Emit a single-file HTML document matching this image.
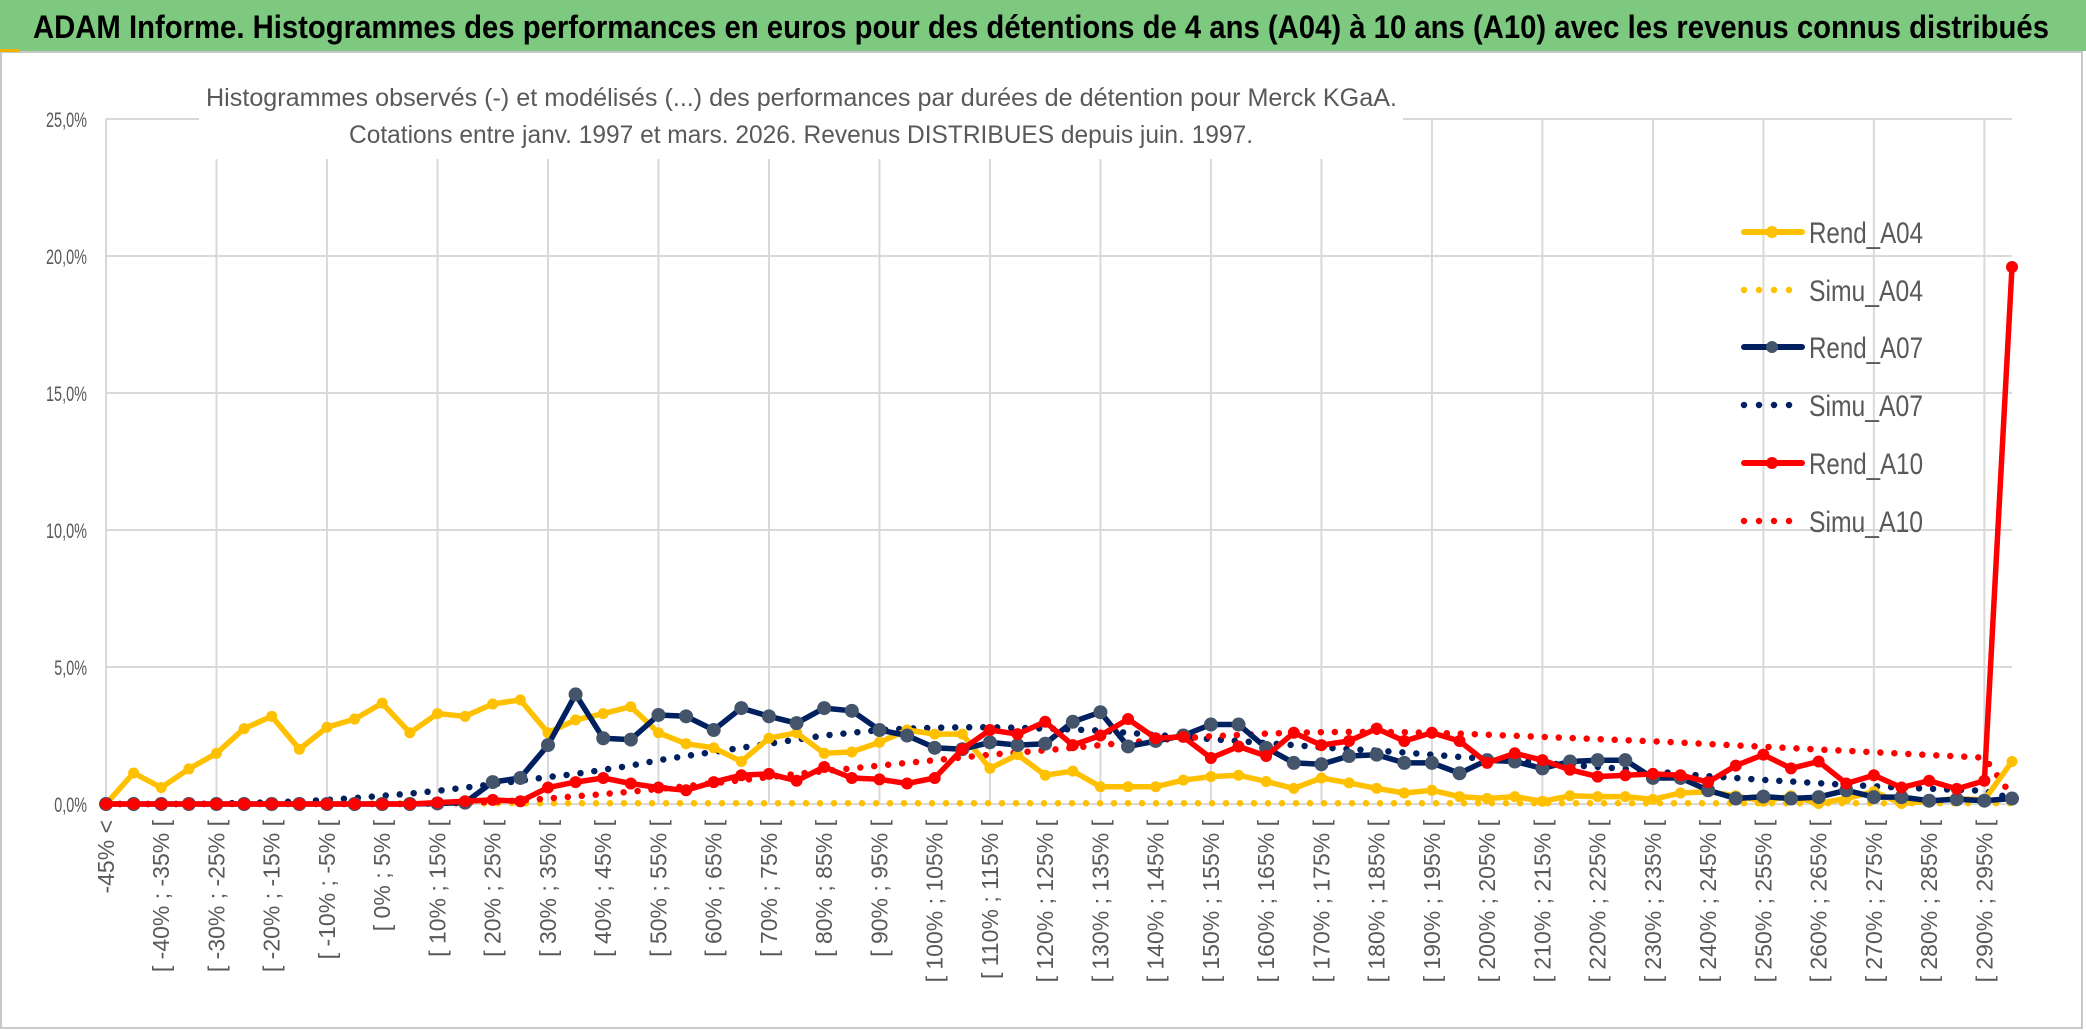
<!DOCTYPE html>
<html><head><meta charset="utf-8"><style>
html,body{margin:0;padding:0;background:#fff;}
svg{display:block;font-family:"Liberation Sans",sans-serif;}
</style></head><body>
<svg id="chart" width="2086" height="1031" viewBox="0 0 2086 1031" xmlns="http://www.w3.org/2000/svg">
<rect x="0" y="0" width="2086" height="1031" fill="#fff"/>
<rect x="1" y="52" width="2081" height="976" fill="#fff" stroke="#c8c8c8" stroke-width="2"/>
<rect x="0" y="0" width="2086" height="51" fill="#7cc97f"/>
<rect x="0" y="49" width="20" height="3" fill="#f0b400"/>
<text x="33" y="38" font-size="32" font-weight="bold" fill="#000" textLength="2016" lengthAdjust="spacingAndGlyphs">ADAM Informe. Histogrammes des performances en euros pour des détentions de 4 ans (A04) à 10 ans (A10) avec les revenus connus distribués</text>
<g id="grid"></g>
<rect x="199" y="70" width="1204" height="89" fill="#fff"/>
<text x="206" y="106" font-size="25" fill="#595959" textLength="1191" lengthAdjust="spacingAndGlyphs">Histogrammes observés (-) et modélisés (...) des performances par durées de détention pour Merck KGaA.</text>
<text x="349" y="143" font-size="25" fill="#595959" textLength="904" lengthAdjust="spacingAndGlyphs">Cotations entre janv. 1997 et mars. 2026. Revenus DISTRIBUES depuis juin. 1997.</text>
<g id="yaxis"></g>
<g id="xaxis"></g>
<g id="series"></g>
<g id="legend"></g>
</svg>
<script>
const rendA04 = [0,1.13,0.6,1.28,1.85,2.75,3.2,2.0,2.8,3.1,3.68,2.6,3.3,3.2,3.65,3.8,2.6,3.07,3.3,3.55,2.6,2.2,2.05,1.55,2.4,2.6,1.85,1.9,2.25,2.7,2.55,2.55,1.3,1.8,1.05,1.2,0.63,0.63,0.63,0.87,1.0,1.05,0.82,0.57,0.95,0.77,0.57,0.4,0.5,0.27,0.2,0.27,0.1,0.3,0.27,0.27,0.17,0.4,0.45,0.3,0.1,0.3,0.02,0.2,0.45,0.02,0.1,0.2,0.15,1.55];
const simuA04 = [0,0,0,0,0,0,0,0,0,0,0.02,0.02,0.02,0.03,0.03,0.03,0.03,0.03,0.03,0.03,0.03,0.03,0.03,0.03,0.03,0.03,0.03,0.03,0.03,0.03,0.03,0.03,0.03,0.03,0.03,0.03,0.03,0.03,0.03,0.03,0.03,0.03,0.03,0.03,0.03,0.03,0.03,0.03,0.03,0.03,0.03,0.03,0.03,0.03,0.03,0.03,0.03,0.03,0.03,0.03,0.03,0.03,0.03,0.03,0.03,0.03,0.03,0.03,0.03,0.03];
const rendA07 = [0,0,0,0,0,0,0,0,0,0,0,0,0.02,0.05,0.8,0.95,2.15,4.0,2.4,2.35,3.25,3.2,2.7,3.5,3.2,2.95,3.5,3.4,2.7,2.5,2.05,2.0,2.25,2.15,2.2,3.0,3.35,2.1,2.3,2.5,2.9,2.9,2.05,1.5,1.45,1.75,1.8,1.5,1.5,1.12,1.6,1.55,1.3,1.55,1.6,1.6,0.95,0.95,0.5,0.2,0.27,0.2,0.25,0.5,0.25,0.25,0.12,0.17,0.12,0.2];
const simuA07 = [0,0,0,0,0.02,0.04,0.06,0.1,0.15,0.22,0.3,0.38,0.48,0.6,0.72,0.85,0.98,1.1,1.25,1.4,1.6,1.75,1.9,2.05,2.2,2.35,2.5,2.6,2.7,2.75,2.78,2.8,2.8,2.78,2.75,2.72,2.68,2.6,2.52,2.45,2.37,2.3,2.22,2.15,2.07,2.0,1.95,1.88,1.8,1.72,1.65,1.58,1.5,1.42,1.35,1.28,1.2,1.1,1.02,0.95,0.88,0.82,0.76,0.7,0.65,0.6,0.56,0.52,0.48,0.2];
const rendA10 = [0,0,0,0,0,0,0,0,0,0,0,0,0.05,0.1,0.15,0.1,0.6,0.8,0.95,0.75,0.6,0.5,0.8,1.05,1.1,0.85,1.35,0.95,0.9,0.75,0.95,2.0,2.7,2.55,3.0,2.15,2.5,3.1,2.4,2.45,1.68,2.1,1.75,2.6,2.15,2.3,2.75,2.3,2.6,2.3,1.5,1.85,1.6,1.25,1.0,1.05,1.1,1.05,0.8,1.4,1.8,1.3,1.55,0.75,1.05,0.6,0.85,0.55,0.85,19.6];
const simuA10 = [0,0,0,0,0,0,0,0,0,0,0,0,0.02,0.04,0.08,0.13,0.2,0.28,0.36,0.45,0.55,0.65,0.76,0.87,0.98,1.1,1.2,1.3,1.4,1.5,1.6,1.7,1.8,1.88,1.96,2.05,2.15,2.25,2.33,2.4,2.47,2.52,2.57,2.6,2.62,2.63,2.63,2.62,2.6,2.57,2.53,2.49,2.45,2.41,2.37,2.33,2.29,2.24,2.19,2.14,2.09,2.04,1.99,1.94,1.89,1.84,1.79,1.74,1.69,0.3];
const yTicks = [0,5,10,15,20,25];
const yTickLabels = ["0,0%","5,0%","10,0%","15,0%","20,0%","25,0%"];
const categories = ["-45% <"];
for (let lo = -45; lo < 300; lo += 5) categories.push("[ " + lo + "% ; " + (lo + 5) + "% [");

const NS = "http://www.w3.org/2000/svg";
const X0 = 106, X1 = 2012, Y0 = 804, YPER = 27.4;
function xPos(i){ return X0 + i * (X1 - X0) / (categories.length - 1); }
function yPos(v){ return Y0 - v * YPER; }
function mk(tag, attrs, parent){ const e = document.createElementNS(NS, tag); for (const k in attrs) e.setAttribute(k, attrs[k]); parent.appendChild(e); return e; }

const grid = document.getElementById('grid');
yTicks.forEach((t, k) => {
  const l = mk('line', {x1: X0, x2: X1, y1: yPos(t), y2: yPos(t), stroke: '#d9d9d9', 'stroke-width': 2}, grid);
  
  
});
for (let i = 0; i < categories.length; i += 4) {
  const l = mk('line', {x1: xPos(i), x2: xPos(i), y1: yPos(25), y2: Y0, stroke: '#d9d9d9', 'stroke-width': 2}, grid);
  
  
}
const yaxis = document.getElementById('yaxis');
yTicks.forEach((t, k) => {
  const tx = mk('text', {x: 87, y: yPos(t) + 8, 'text-anchor': 'end', 'font-size': 21, fill: '#595959', textLength: (yTickLabels[k].length * 8.2), lengthAdjust: 'spacingAndGlyphs'}, yaxis);
  tx.textContent = yTickLabels[k];
  
  
});
const xaxis = document.getElementById('xaxis');
categories.forEach((c, i) => {
  if (i % 2) return;
  const x = xPos(i) + 8, y = 820;
  const tx = mk('text', {x: 0, y: 0, 'text-anchor': 'end', 'font-size': 23, fill: '#595959', transform: 'translate(' + x + ',' + y + ') rotate(-90) scale(1.0,1)'}, xaxis);
  tx.textContent = c;
  
  
});

const seriesG = document.getElementById('series');
function pts(arr){ return arr.map((v, i) => xPos(i).toFixed(1) + ',' + yPos(v).toFixed(1)).join(' '); }
function dotted(arr, color, name){
  const p = mk('polyline', {points: pts(arr), fill: 'none', stroke: color, 'stroke-width': 6.5, 'stroke-linecap': 'round', 'stroke-dasharray': '0 14'}, seriesG);
  
  
}
function solid(arr, color, mcolor, r, name){
  const g = mk('g', {}, seriesG);
  
  
  const p = mk('polyline', {points: pts(arr), fill: 'none', stroke: color, 'stroke-width': 5.5, 'stroke-linejoin': 'round'}, g);
  
  
  arr.forEach((v, i) => {
    const c = mk('circle', {cx: xPos(i), cy: yPos(v), r: r, fill: mcolor}, g);
    
    
  });
}
dotted(simuA04, '#ffc000', 'simu-a04-line');
dotted(simuA07, '#002060', 'simu-a07-line');
dotted(simuA10, '#ff0000', 'simu-a10-line');
solid(rendA04, '#ffc000', '#ffc000', 5.5, 'rend-a04-series');
solid(rendA07, '#002060', '#44546a', 7, 'rend-a07-series');
solid(rendA10, '#ff0000', '#ff0000', 6, 'rend-a10-series');

const legendItems = [
  ['Rend_A04', '#ffc000', '#ffc000', false],
  ['Simu_A04', '#ffc000', null, true],
  ['Rend_A07', '#002060', '#44546a', false],
  ['Simu_A07', '#002060', null, true],
  ['Rend_A10', '#ff0000', '#ff0000', false],
  ['Simu_A10', '#ff0000', null, true]
];
const legendYs = [232, 290, 347, 405, 463, 521];
const lg = document.getElementById('legend');
legendItems.forEach((it, k) => {
  const y = legendYs[k];
  const g = mk('g', {}, lg);
  
  
  if (it[3]) {
    mk('line', {x1: 1744, x2: 1800, y1: y, y2: y, stroke: it[1], 'stroke-width': 6.5, 'stroke-linecap': 'round', 'stroke-dasharray': '0 15'}, g);
  } else {
    mk('line', {x1: 1744, x2: 1802, y1: y, y2: y, stroke: it[1], 'stroke-width': 6, 'stroke-linecap': 'round'}, g);
    mk('circle', {cx: 1772, cy: y, r: 6, fill: it[2]}, g);
  }
  const t = mk('text', {x: 1809, y: y + 11, 'font-size': 30, fill: '#595959', textLength: 114, lengthAdjust: 'spacingAndGlyphs'}, g);
  t.textContent = it[0];
});
</script>
</body></html>
